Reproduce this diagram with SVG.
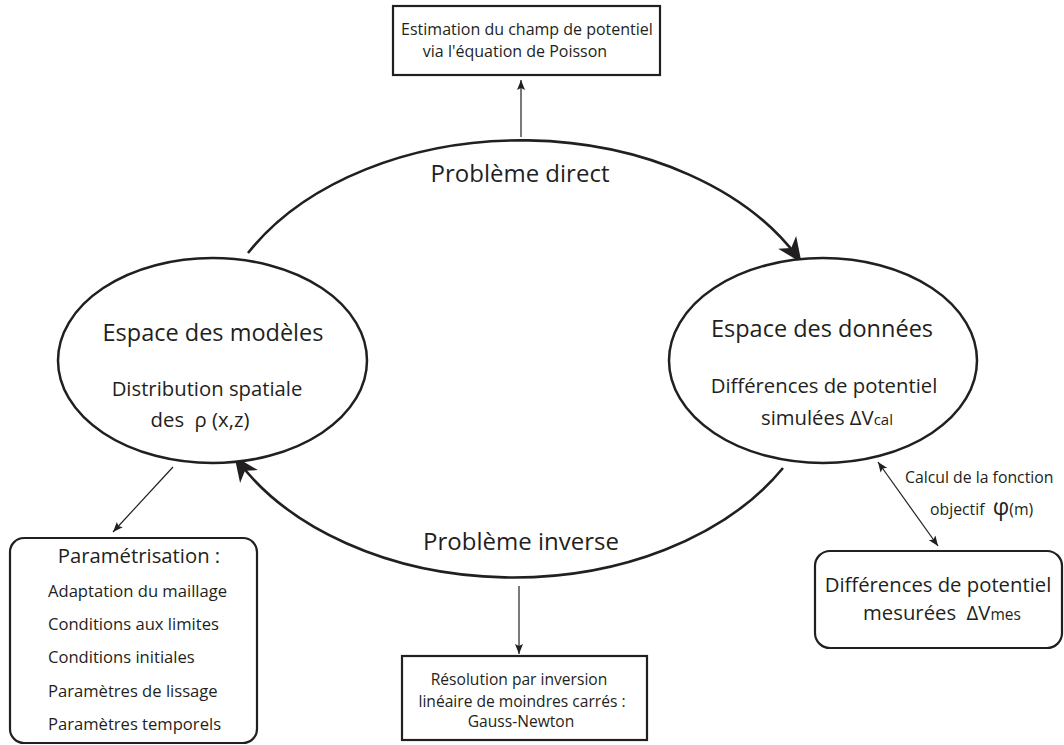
<svg xmlns="http://www.w3.org/2000/svg" width="1064" height="745" viewBox="0 0 1064 745">
<style>
text{font-family:"Open Sans","Noto Sans","Liberation Sans",sans-serif;fill:#231f20}
.big{font-size:23.5px}
.lbl{font-size:24px}
.mid{font-size:20.3px}
.box{font-size:16px}
.box2{font-size:15.6px}
.lst{font-size:16.6px}
.sm{font-size:15.8px}
.c{text-anchor:middle}
.shape{fill:#fff;stroke:#231f20;stroke-width:2.5}
.rect{fill:#fff;stroke:#231f20;stroke-width:2.2}
.arc{fill:none;stroke:#231f20;stroke-width:2.6}
.thin{fill:none;stroke:#231f20;stroke-width:1.2}
</style>
<defs>
<marker id="big" markerUnits="userSpaceOnUse" markerWidth="30" markerHeight="24" refX="24" refY="12" orient="auto" overflow="visible">
<path d="M25,12 L0,1 L7,12 L0,23 Z" fill="#231f20"/>
</marker>
<marker id="small" markerUnits="userSpaceOnUse" markerWidth="12" markerHeight="8" refX="10" refY="4" orient="auto-start-reverse" overflow="visible">
<path d="M10,4 L0,0 L2,4 L0,8 Z" fill="#231f20"/>
</marker>
</defs>
<rect width="1064" height="745" fill="#fff"/>
<g id="connectors">
<path class="arc" d="M248,253 A312,218 0 0 1 801,262" marker-end="url(#big)"/>
<path class="arc" d="M783,468 A312,220 0 0 1 235,457" marker-end="url(#big)"/>
<line class="thin" x1="521" y1="137" x2="521" y2="80" marker-end="url(#small)"/>
<line class="thin" x1="519" y1="586" x2="519" y2="654" marker-end="url(#small)"/>
<line class="thin" x1="173" y1="467" x2="113" y2="532" marker-end="url(#small)"/>
<line class="thin" x1="878" y1="462" x2="938" y2="546" marker-start="url(#small)" marker-end="url(#small)"/>
<text class="lbl c" x="520" y="182">Problème direct</text>
<text class="lbl c" x="521" y="550">Problème inverse</text>
<text class="sm" x="905" y="483">Calcul de la fonction</text>
<text class="sm" x="930" y="515">objectif&#160; <tspan style="font-size:23px">φ</tspan>(m)</text>
</g>
<g id="modeles">
<ellipse class="shape" cx="212.5" cy="360.5" rx="154.5" ry="102.5"/>
<text class="big c" x="213" y="341">Espace des modèles</text>
<text class="mid c" x="207" y="396">Distribution spatiale</text>
<text class="mid c" x="200" y="427">des&#160; ρ (x,z)</text>
</g>
<g id="donnees">
<ellipse class="shape" cx="823" cy="360.5" rx="154" ry="102.5"/>
<text class="big c" x="822" y="337">Espace des données</text>
<text class="mid c" x="824" y="393">Différences de potentiel</text>
<text class="mid c" x="827" y="425">simulées ΔV<tspan style="font-size:15px">cal</tspan></text>
</g>
<g id="poisson">
<rect class="rect" x="393" y="6" width="267" height="69"/>
<text class="box c" x="527" y="35">Estimation du champ de potentiel</text>
<text class="box c" x="515" y="57">via l'équation de Poisson</text>
</g>
<g id="gauss">
<rect class="rect" x="402" y="656" width="245" height="84"/>
<text class="box2 c" x="519" y="685">Résolution par inversion</text>
<text class="box2 c" x="522" y="707">linéaire de moindres carrés :</text>
<text class="box2 c" x="521" y="727">Gauss-Newton</text>
</g>
<g id="parametrisation">
<rect class="rect" x="10" y="538" width="247" height="205" rx="14"/>
<text class="mid c" x="139" y="563">Paramétrisation :</text>
<text class="lst" x="48" y="597">Adaptation du maillage</text>
<text class="lst" x="48" y="630">Conditions aux limites</text>
<text class="lst" x="48" y="663">Conditions initiales</text>
<text class="lst" x="48" y="697">Paramètres de lissage</text>
<text class="lst" x="48" y="730">Paramètres temporels</text>
</g>
<g id="mesurees">
<rect class="rect" x="815" y="551" width="247" height="97" rx="15"/>
<text class="mid c" x="938" y="592">Différences de potentiel</text>
<text class="mid c" x="942" y="620">mesurées&#160; ΔV<tspan style="font-size:15.5px">mes</tspan></text>
</g>
</svg>
